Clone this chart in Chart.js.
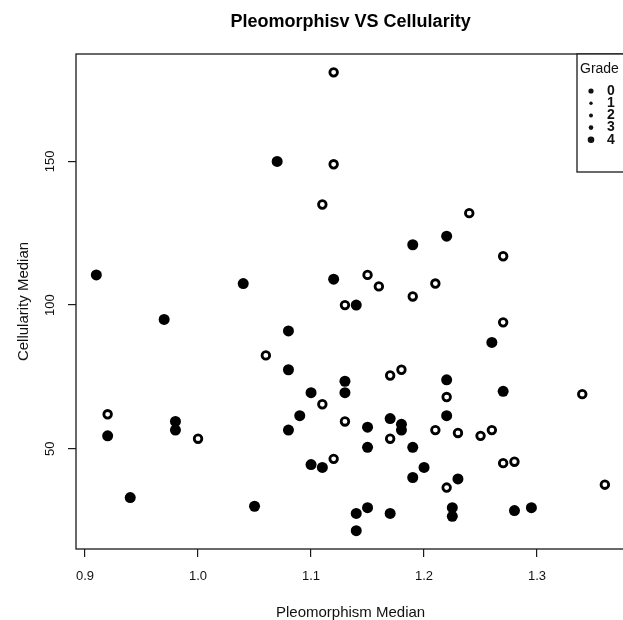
<!DOCTYPE html>
<html>
<head>
<meta charset="utf-8">
<title>Pleomorphisv VS Cellularity</title>
<script src="https://cdn.jsdelivr.net/npm/chart.js@4/dist/chart.umd.min.js"></script>
<style>
  html, body { margin: 0; padding: 0; background: #fff; overflow: hidden; }
  canvas { display: block; }
</style>
</head>
<body>
<canvas id="myChart" width="632" height="620"></canvas>
<script>
//  data
let xTicks = [0.9, 1.0, 1.1, 1.2, 1.3],
    yTicks = [50, 100, 150],
    gradeLabels = ['0', '1', '2', '3', '4']

//  solid dots
let dotX = [0.91, 1.04, 1.07, 1.19, 1.22, 1.12, 0.97, 1.08, 1.08, 1.10, 1.09, 0.98, 0.98, 1.08, 0.92,
            1.10, 1.11, 0.94, 1.05, 1.14, 1.26, 1.13, 1.22, 1.13, 1.27, 1.22, 1.17, 1.15, 1.18, 1.18,
            1.15, 1.19, 1.20, 1.19, 1.23, 1.15, 1.14, 1.17, 1.225, 1.225, 1.28, 1.295, 1.14]
let dotY = [110.5, 107.5, 150, 121, 124, 109, 95, 91, 77.5, 69.5, 61.5, 59.5, 56.5, 56.5, 54.5,
            44.5, 43.5, 33, 30, 100, 87, 73.5, 74, 69.5, 70, 61.5, 60.5, 57.5, 58.5, 56.5,
            50.5, 50.5, 43.5, 40, 39.5, 29.5, 27.5, 27.5, 29.5, 26.5, 28.5, 29.5, 21.5]

//  ring shaped dots
let ringX = [1.11, 1.12, 1.12, 1.24, 1.27, 1.15, 1.16, 1.21, 1.19, 1.06, 0.92, 1.00, 1.11, 1.13, 1.27,
             1.18, 1.17, 1.34, 1.22, 1.13, 1.21, 1.23, 1.25, 1.26, 1.17, 1.12, 1.22, 1.27, 1.28, 1.36]
let ringY = [135, 181, 149, 132, 117, 110.5, 106.5, 107.5, 103, 82.5, 62, 53.5, 65.5, 100, 94,
             77.5, 75.5, 69, 68, 59.5, 56.5, 55.5, 54.5, 56.5, 53.5, 46.5, 36.5, 45, 45.5, 37.5]

const FONT = '"Liberation Sans", Arial, Helvetica, sans-serif'

function toPoints(xs, ys) {
    return xs.map((x, i) => ({ x: x, y: ys[i] }))
}

//  R style limits: data range plus 4% each side
function limits(arrs) {
    let all = [].concat(...arrs)
    let lo = Math.min(...all), hi = Math.max(...all), pad = (hi - lo) * 0.04
    return [lo - pad, hi + pad]
}
const [xMin, xMax] = limits([dotX, ringX])
const [yMin, yMax] = limits([dotY, ringY])

//  title over the plot, box round it, rotated y labels and the legend
const rPlot = {
    id: 'rPlot',
    afterDraw(chart) {
        const { ctx, chartArea: a, scales } = chart
        ctx.save()
        ctx.fillStyle = '#000'
        ctx.font = 'bold 18px ' + FONT
        ctx.textAlign = 'center'
        ctx.textBaseline = 'middle'
        ctx.fillText('Pleomorphisv VS Cellularity', (a.left + a.right) / 2, 22)

        ctx.strokeStyle = '#1a1a1a'
        ctx.lineWidth = 1.3
        ctx.strokeRect(a.left, a.top, a.right - a.left, a.bottom - a.top)

        ctx.fillStyle = '#111'
        ctx.font = '13px ' + FONT
        yTicks.forEach(v => {
            const py = scales.y.getPixelForValue(v)
            ctx.save()
            ctx.translate(50, py)
            ctx.rotate(-Math.PI / 2)
            ctx.fillText(String(v), 0, 0)
            ctx.restore()
        })

        // legend
        const lx = 577, ly = 54, lh = 118
        ctx.fillStyle = '#fff'
        ctx.fillRect(lx, ly, a.right - lx, lh)
        ctx.strokeRect(lx, ly, a.right - lx, lh)
        ctx.fillStyle = '#111'
        ctx.textAlign = 'left'
        ctx.font = '14px ' + FONT
        ctx.fillText('Grade', lx + 3, ly + 15)
        const sizes = [2.6, 1.7, 2.0, 2.3, 3.3]
        gradeLabels.forEach((g, i) => {
            const yy = ly + 37 + i * 12.2
            ctx.beginPath()
            ctx.arc(591, yy, sizes[i], 0, Math.PI * 2)
            ctx.fill()
            ctx.textAlign = 'center'
            ctx.font = 'bold 14px ' + FONT
            ctx.fillText(g, 611, yy)
        })
        ctx.restore()
    }
}

new Chart(document.getElementById('myChart'), {
    type: 'scatter',
    data: {
        datasets: [
            {
                label: '4',
                data: toPoints(dotX, dotY),
                pointRadius: 5.5,
                pointBackgroundColor: '#000',
                pointBorderColor: '#000',
                pointBorderWidth: 0
            },
            {
                label: '3',
                data: toPoints(ringX, ringY),
                pointRadius: 3.8,
                pointBackgroundColor: '#fff',
                pointBorderColor: '#000',
                pointBorderWidth: 2.8
            }
        ]
    },
    options: {
        responsive: false,
        animation: false,
        events: [],
        layout: { padding: { top: 54, left: 0, right: 1, bottom: 0 } },
        plugins: {
            legend: { display: false },
            tooltip: { enabled: false },
            title: { display: false }
        },
        scales: {
            x: {
                type: 'linear',
                min: xMin,
                max: xMax,
                afterBuildTicks: s => { s.ticks = xTicks.map(v => ({ value: v })) },
                afterFit: s => { s.height = 71 },
                border: { display: false },
                grid: { drawOnChartArea: false, drawTicks: true, tickLength: 8, color: '#1a1a1a', lineWidth: 1.2 },
                ticks: {
                    color: '#111',
                    padding: 12,
                    maxRotation: 0,
                    font: { family: FONT, size: 13 },
                    callback: v => v.toFixed(1)
                },
                title: {
                    display: true,
                    text: 'Pleomorphism Median',
                    color: '#111',
                    font: { family: FONT, size: 15, lineHeight: 1 },
                    padding: { top: 4, bottom: 0 }
                }
            },
            y: {
                type: 'linear',
                min: yMin,
                max: yMax,
                afterBuildTicks: s => { s.ticks = yTicks.map(v => ({ value: v })) },
                afterFit: s => { s.width = 76 },
                border: { display: false },
                grid: { drawOnChartArea: false, drawTicks: true, tickLength: 8, color: '#1a1a1a', lineWidth: 1.2 },
                ticks: { display: false },
                title: {
                    display: true,
                    text: 'Cellularity Median',
                    color: '#111',
                    font: { family: FONT, size: 15 },
                    padding: { top: 15, bottom: 0 }
                }
            }
        }
    },
    plugins: [rPlot]
})
</script>
</body>
</html>
